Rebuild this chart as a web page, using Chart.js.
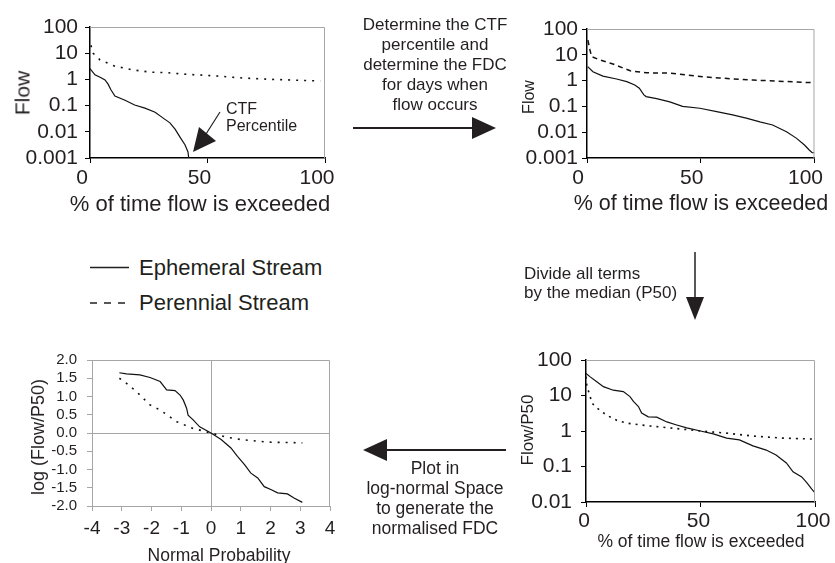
<!DOCTYPE html>
<html>
<head>
<meta charset="utf-8">
<title>FDC normalisation</title>
<script src="https://cdn.jsdelivr.net/npm/chart.js@4"></script>
<style>
  body { margin: 0; background: #fff; width: 835px; height: 563px; position: relative; overflow: hidden;
         font-family: "Liberation Sans", Arial, sans-serif; color: #231f20; }
  canvas { position: absolute; }
  .t { position: absolute; white-space: nowrap; line-height: 1; transform: translate(-50%, -50%); }
  .rot { transform: translate(-50%, -50%) rotate(-90deg); }
  .note { position: absolute; white-space: nowrap; }
  svg { position: absolute; left: 0; top: 0; }
</style>
</head>
<body>

<canvas id="rawChart"  width="350" height="225" style="left:0;top:0"></canvas>
<canvas id="ctfChart"  width="335" height="225" style="left:500px;top:0"></canvas>
<canvas id="normChart" width="335" height="233" style="left:500px;top:330px"></canvas>
<canvas id="lnChart"   width="350" height="233" style="left:0;top:330px"></canvas>

<!-- axis titles -->
<div class="t rot" style="left:22px;top:93px;font-size:21px">Flow</div>
<div class="t" style="left:200px;top:204px;font-size:22px">% of time flow is exceeded</div>
<div class="t rot" style="left:529px;top:97px;font-size:16px">Flow</div>
<div class="t" style="left:701px;top:204px;font-size:21.5px">% of time flow is exceeded</div>
<div class="t rot" style="left:527px;top:430px;font-size:17px">Flow/P50</div>
<div class="t" style="left:701px;top:542px;font-size:17.5px">% of time flow is exceeded</div>
<div class="t rot" style="left:38px;top:437px;font-size:18px">log (Flow/P50)</div>
<div class="t" style="left:219px;top:556px;font-size:17.5px">Normal Probability</div>

<!-- annotations -->
<div class="note" style="left:335px;width:200px;top:15px;font-size:17px;line-height:20px;text-align:center">
  Determine the CTF<br>percentile and<br>determine the FDC<br>for days when<br>flow occurs</div>
<div class="note" style="left:226px;top:100px;font-size:16px;line-height:17px">CTF<br>Percentile</div>
<div class="note" style="left:524px;top:264px;font-size:17px;line-height:19px">Divide all terms<br>by the median (P50)</div>
<div class="note" style="left:335px;width:200px;top:458px;font-size:17.5px;line-height:20px;text-align:center">
  Plot in<br>log-normal Space<br>to generate the<br>normalised FDC</div>

<!-- legend -->
<div class="note" style="left:139px;top:255px;font-size:22px">Ephemeral Stream</div>
<div class="note" style="left:139px;top:290px;font-size:22px">Perennial Stream</div>

<svg width="835" height="563">
  <line x1="90" y1="267.5" x2="129" y2="267.5" stroke="#231f20" stroke-width="1.5"/>
  <line x1="90" y1="303" x2="126" y2="303" stroke="#231f20" stroke-width="1.5" stroke-dasharray="7,7"/>
  <!-- step arrows -->
  <line x1="353" y1="128" x2="476" y2="128" stroke="#231f20" stroke-width="2"/>
  <polygon points="496,128 472,117 472,139" fill="#231f20"/>
  <line x1="695" y1="252" x2="695" y2="300" stroke="#231f20" stroke-width="1.5"/>
  <polygon points="695,320 686,297 704,297" fill="#231f20"/>
  <line x1="384" y1="450" x2="506" y2="450" stroke="#231f20" stroke-width="2"/>
  <polygon points="363,450 387,439 387,461" fill="#231f20"/>
  <!-- CTF pointer -->
  <line x1="220" y1="112" x2="206" y2="134" stroke="#231f20" stroke-width="1.2"/>
  <polygon points="193,152 199,127 216,141" fill="#231f20"/>
</svg>

<script>
// panel 1: flow duration curve, all days
const rawEphPct  = [0, 2.1, 4.3, 6.4, 7.7, 8.9, 10.6, 14.9, 19, 23.4, 27.7, 31, 34, 36.2, 38.3, 40.4, 41.7, 42];
const rawEphFlow = [2.6, 1.5, 1.2, 0.95, 0.66, 0.4, 0.23, 0.16, 0.105, 0.08, 0.056, 0.034, 0.022, 0.0126, 0.0063, 0.0032, 0.0017, 0.001];
const rawPerPct  = [0.4, 1.3, 4.3, 10.6, 18.3, 25.5, 32.8, 39.6, 54, 63.8, 75, 98];
const rawPerFlow = [20, 10, 5.5, 3.2, 2.3, 1.9, 1.8, 1.6, 1.35, 1.15, 1.02, 0.87];

// panel 2: FDC for days when flow occurs
const ctfEphPct  = [0.3, 2.6, 7, 13, 17.5, 21, 23, 25, 26, 30.6, 36.4, 42, 49.6, 57, 64, 70, 76, 81.6, 87.7, 92, 95.6, 97.8, 99, 100];
const ctfEphFlow = [3.5, 2.2, 1.5, 1.15, 0.91, 0.68, 0.51, 0.28, 0.24, 0.2, 0.15, 0.1, 0.085, 0.063, 0.047, 0.035, 0.025, 0.019, 0.0105, 0.0059, 0.0032, 0.002, 0.0016, 0.0016];
const ctfPerPct  = [0.4, 1.3, 2, 5.7, 11.4, 19, 26, 36.4, 51, 58, 73, 99];
const ctfPerFlow = [37, 15.5, 8.5, 6.3, 4.4, 2.4, 2.0, 1.95, 1.4, 1.26, 1.05, 0.83];

// panel 3: divided by the median
const normEphPct   = [0, 1.7, 4.7, 7.6, 11.9, 16.3, 19.2, 20.7, 22.9, 24.3, 27.2, 30.9, 35.3, 39.6, 44, 50, 55.6, 61.4, 67, 72.9, 78.7, 83, 87.5, 90.4, 94.2, 96.4, 98.6, 100];
const normEphRatio = [42, 34, 24.5, 17.8, 14.1, 12.9, 9.3, 6.8, 4.9, 3.2, 2.5, 2.45, 1.8, 1.48, 1.23, 1.0, 0.83, 0.63, 0.56, 0.38, 0.29, 0.21, 0.126, 0.071, 0.051, 0.035, 0.023, 0.018];
const normPerPct   = [0, 0.4, 1.7, 2.5, 4.7, 9, 13.4, 17.8, 28, 38, 50, 61.4, 72.9, 86, 100];
const normPerRatio = [34, 17.8, 10.2, 6.2, 4.5, 2.8, 2.0, 1.66, 1.38, 1.2, 1.0, 0.87, 0.72, 0.63, 0.59];

// panel 4: log-normal space
const lnEphZ   = [-3.08, -2.84, -2.39, -2.05, -1.71, -1.49, -1.21, -1.04, -0.93, -0.82, -0.77, -0.6, -0.38, 0, 0.34, 0.67, 0.89, 1.12, 1.34, 1.57, 1.79, 2.01, 2.24, 2.57, 2.79, 3.07];
const lnEphLog = [1.65, 1.62, 1.59, 1.52, 1.41, 1.18, 1.16, 1.04, 0.9, 0.68, 0.49, 0.36, 0.17, 0, -0.18, -0.41, -0.64, -0.86, -1.1, -1.23, -1.47, -1.55, -1.64, -1.67, -1.78, -1.9];
const lnPerZ   = [-3.08, -2.84, -2.5, -2.05, -1.71, -1.15, -0.62, 0, 0.56, 1.01, 1.9, 3.07];
const lnPerLog = [1.5, 1.36, 1.13, 0.77, 0.63, 0.31, 0.13, 0, -0.12, -0.18, -0.25, -0.27];

const flowTicks  = [0.001, 0.01, 0.1, 1, 10, 100];
const ratioTicks = [0.01, 0.1, 1, 10, 100];

const FONT = '"Liberation Sans", Arial, sans-serif';
const INK = '#231f20';

// grey top/right edge of each plot box
const frame = {
  id: 'frame',
  afterDraw(chart) {
    const a = chart.chartArea, c = chart.ctx;
    c.save();
    c.strokeStyle = '#a6a6a6';
    c.lineWidth = 1;
    c.beginPath();
    c.moveTo(a.left, a.top + 0.5);
    c.lineTo(a.right - 0.5, a.top + 0.5);
    c.lineTo(a.right - 0.5, a.bottom);
    c.stroke();
    c.restore();
  }
};

function xy(xs, ys) { return xs.map((x, i) => ({ x: x, y: ys[i] })); }

function series(xs, ys, dash, w) {
  return { data: xy(xs, ys), borderColor: '#111', borderWidth: w || 1.2, borderDash: dash || [],
           pointRadius: 0, fill: false, tension: 0 };
}

function pctAxis(size, pad, offset) {
  return {
    type: 'linear', min: 0, max: 100,
    ticks: { stepSize: 50, font: { family: FONT, size: size }, color: INK, padding: pad, labelOffset: offset,
             maxRotation: 0, autoSkip: false },
    grid: { drawOnChartArea: false, tickLength: 5, tickColor: '#000' },
    border: { color: '#000', width: 1.5 }
  };
}

function logAxis(min, list, size, pad) {
  return {
    type: 'logarithmic', min: min, max: 100,
    afterBuildTicks: s => { s.ticks = list.map(v => ({ value: v })); },
    ticks: { callback: v => String(v), font: { family: FONT, size: size }, color: INK, padding: pad, autoSkip: false },
    grid: { drawOnChartArea: false, tickLength: 5, tickColor: '#000' },
    border: { color: '#000', width: 1.5 }
  };
}

function makePanel(id, o) {
  o.x.afterFit = s => { s.height = o.xH; };
  o.y.afterFit = s => { s.width = o.yW; };
  new Chart(document.getElementById(id), {
    type: 'line',
    data: { datasets: o.datasets },
    options: {
      responsive: false,
      animation: false,
      layout: { padding: { top: o.padTop, right: o.padRight, left: 0, bottom: 0 } },
      plugins: { legend: { display: false }, tooltip: { enabled: false } },
      scales: { x: o.x, y: o.y }
    },
    plugins: [frame]
  });
}

makePanel('rawChart', {
  padTop: 27, padRight: 25, yW: 90, xH: 67,
  x: pctAxis(21, 3, -8),
  y: logAxis(0.001, flowTicks, 21, 7),
  datasets: [
    series(rawEphPct, rawEphFlow),
    series(rawPerPct, rawPerFlow, [2, 6], 1.6)
  ]
});

makePanel('ctfChart', {
  padTop: 29, padRight: 20, yW: 87, xH: 67,
  x: pctAxis(21, 3, -9),
  y: logAxis(0.001, flowTicks, 21, 4),
  datasets: [
    series(ctfEphPct, ctfEphFlow),
    series(ctfPerPct, ctfPerFlow, [5, 4], 1.5)
  ]
});

makePanel('normChart', {
  padTop: 30, padRight: 20, yW: 86, xH: 61,
  x: pctAxis(21, 2, -2),
  y: logAxis(0.01, ratioTicks, 21, 9),
  datasets: [
    series(normEphPct, normEphRatio),
    series(normPerPct, normPerRatio, [2, 5], 1.6)
  ]
});

const zeroLine = c => (c.tick && Math.abs(c.tick.value) < 1e-9) ? '#a6a6a6' : 'rgba(0,0,0,0)';
makePanel('lnChart', {
  padTop: 30, padRight: 20, yW: 92, xH: 57,
  x: {
    type: 'linear', min: -4, max: 4,
    ticks: { stepSize: 1, callback: v => String(v), font: { family: FONT, size: 19 }, color: INK, padding: 6,
             maxRotation: 0, autoSkip: false },
    grid: { color: zeroLine, tickLength: 5, tickColor: '#a6a6a6' },
    border: { color: '#a6a6a6', width: 1 }
  },
  y: {
    type: 'linear', min: -2, max: 2,
    ticks: { stepSize: 0.5, callback: v => v.toFixed(1), font: { family: FONT, size: 15 }, color: INK, padding: 10,
             autoSkip: false },
    grid: { color: zeroLine, tickLength: 5, tickColor: '#a6a6a6' },
    border: { color: '#a6a6a6', width: 1 }
  },
  datasets: [
    series(lnEphZ, lnEphLog),
    series(lnPerZ, lnPerLog, [2, 6], 1.6)
  ]
});
</script>
</body>
</html>
